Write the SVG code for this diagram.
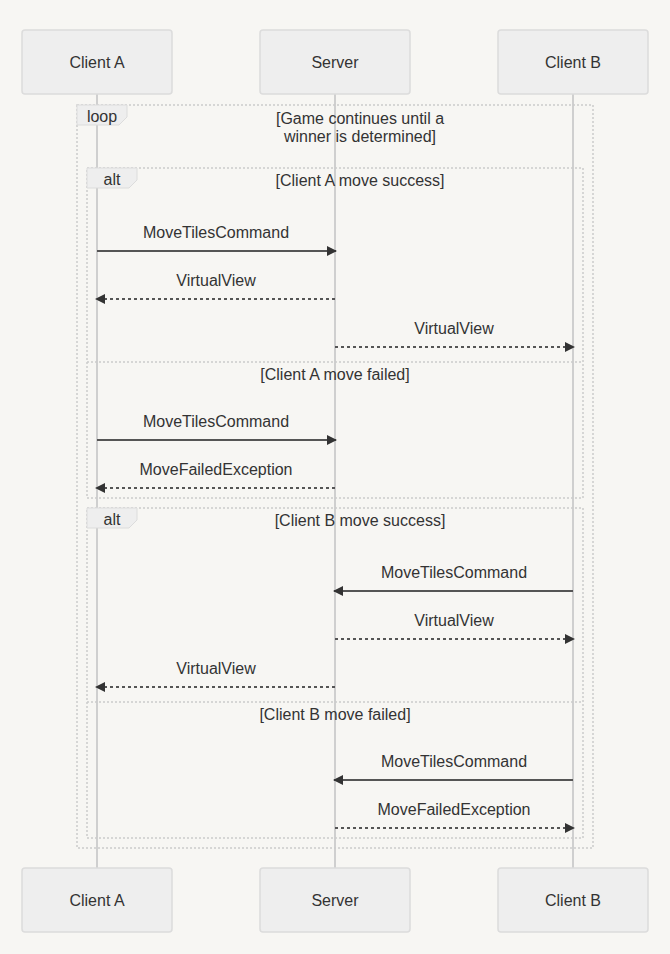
<svg xmlns="http://www.w3.org/2000/svg" width="670" height="954" viewBox="0 0 670 954">
<style>
text{font-family:"Liberation Sans",Arial,sans-serif;font-size:16px;fill:#333;text-anchor:middle}
.actor rect{fill:#eeeeee;stroke:#dcdcdc;stroke-width:1.5}
.life{stroke:#cfcfcf;stroke-width:2}
.frame{fill:none;stroke:#cccccc;stroke-width:1.5;stroke-dasharray:2,2}
.lab{fill:#eeeeee;stroke:#dcdcdc;stroke-width:1}
.msg{stroke:#555;stroke-width:2;fill:none}
.dash{stroke-dasharray:3,3}
</style>
<defs>
<marker id="ah" viewBox="0 0 10 10" refX="9" refY="5" markerWidth="10" markerHeight="10" markerUnits="userSpaceOnUse" orient="auto">
<path d="M0,0 L10,5 L0,10 z" fill="#333"/>
</marker>
</defs>
<rect width="670" height="954" fill="#f7f6f3"/>
<g id="lifelines">
<line class="life" x1="97" y1="94" x2="97" y2="868"/>
<line class="life" x1="335" y1="94" x2="335" y2="868"/>
<line class="life" x1="573" y1="94" x2="573" y2="868"/>
</g>
<g id="frames">
<rect class="frame" x="77" y="105" width="516" height="743"/>
<path class="lab" d="M77,105 H127 V117 L119,125 H77 Z"/>
<text x="102" y="122">loop</text>
<text x="360" y="124">[Game continues until a</text>
<text x="360" y="142">winner is determined]</text>
<rect class="frame" x="87" y="168" width="496" height="330"/>
<path class="lab" d="M87,168 H137 V180 L129,188 H87 Z"/>
<text x="112" y="185">alt</text>
<text x="360" y="186">[Client A move success]</text>
<line class="frame" x1="87" y1="362" x2="583" y2="362"/>
<text x="335" y="380">[Client A move failed]</text>
<rect class="frame" x="87" y="508" width="496" height="330"/>
<path class="lab" d="M87,508 H137 V520 L129,528 H87 Z"/>
<text x="112" y="525">alt</text>
<text x="360" y="526">[Client B move success]</text>
<line class="frame" x1="87" y1="702" x2="583" y2="702"/>
<text x="335" y="720">[Client B move failed]</text>
</g>
<g id="connectors">
<line class="msg" x1="97" y1="251" x2="336" y2="251" marker-end="url(#ah)"/>
<text x="216" y="238">MoveTilesCommand</text>
<line class="msg dash" x1="335" y1="299" x2="96" y2="299" marker-end="url(#ah)"/>
<text x="216" y="286">VirtualView</text>
<line class="msg dash" x1="335" y1="347" x2="574" y2="347" marker-end="url(#ah)"/>
<text x="454" y="334">VirtualView</text>
<line class="msg" x1="97" y1="440" x2="336" y2="440" marker-end="url(#ah)"/>
<text x="216" y="427">MoveTilesCommand</text>
<line class="msg dash" x1="335" y1="488" x2="96" y2="488" marker-end="url(#ah)"/>
<text x="216" y="475">MoveFailedException</text>
<line class="msg" x1="573" y1="591" x2="334" y2="591" marker-end="url(#ah)"/>
<text x="454" y="578">MoveTilesCommand</text>
<line class="msg dash" x1="335" y1="639" x2="574" y2="639" marker-end="url(#ah)"/>
<text x="454" y="626">VirtualView</text>
<line class="msg dash" x1="335" y1="687" x2="96" y2="687" marker-end="url(#ah)"/>
<text x="216" y="674">VirtualView</text>
<line class="msg" x1="573" y1="780" x2="334" y2="780" marker-end="url(#ah)"/>
<text x="454" y="767">MoveTilesCommand</text>
<line class="msg dash" x1="335" y1="828" x2="574" y2="828" marker-end="url(#ah)"/>
<text x="454" y="815">MoveFailedException</text>
</g>
<g id="clientA-top" class="actor"><rect x="22" y="30" width="150" height="64" rx="3"/><text x="97" y="68">Client A</text></g>
<g id="server-top" class="actor"><rect x="260" y="30" width="150" height="64" rx="3"/><text x="335" y="68">Server</text></g>
<g id="clientB-top" class="actor"><rect x="498" y="30" width="150" height="64" rx="3"/><text x="573" y="68">Client B</text></g>
<g id="clientA-bottom" class="actor"><rect x="22" y="868" width="150" height="64" rx="3"/><text x="97" y="906">Client A</text></g>
<g id="server-bottom" class="actor"><rect x="260" y="868" width="150" height="64" rx="3"/><text x="335" y="906">Server</text></g>
<g id="clientB-bottom" class="actor"><rect x="498" y="868" width="150" height="64" rx="3"/><text x="573" y="906">Client B</text></g>
</svg>
